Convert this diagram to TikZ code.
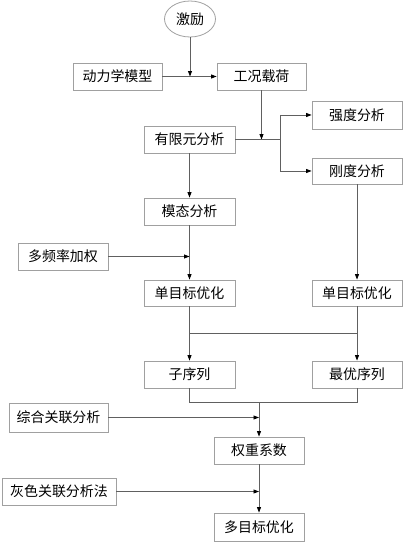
\documentclass[tikz,border=0pt]{standalone}
\usepackage{fontspec}
\setmainfont{Noto Sans CJK SC}
\usetikzlibrary{arrows.meta,shapes.geometric}
\definecolor{linec}{HTML}{606060}
\definecolor{boxc}{HTML}{A0A0A0}
\tikzset{
  box/.style={draw=boxc, line width=0.8pt, inner sep=0pt, font=\fontsize{14}{16}\selectfont, text=black},
  conn/.style={draw=linec, line width=0.9pt},
  arr/.style={conn, -{Stealth[length=5.5pt,width=4pt,inset=0pt]}, arrows={[black]}},
}
\begin{document}
\begin{tikzpicture}[x=1bp,y=-1bp]
\useasboundingbox (0,0) rectangle (406,543);
\node[draw=boxc, line width=0.8pt, ellipse, minimum width=51bp, minimum height=36bp, inner sep=0pt, font=\fontsize{14}{16}\selectfont] (exc) at (190,19) {激励};
\node[box, minimum width=89bp, minimum height=27bp] (dyn) at (117.5,76.5) {动力学模型};
\node[box, minimum width=89bp, minimum height=27bp] (load) at (261.5,76.5) {工况载荷};
\node[box, minimum width=90bp, minimum height=28bp] (str) at (357,115) {强度分析};
\node[box, minimum width=91bp, minimum height=27bp] (fea) at (189.5,139.5) {有限元分析};
\node[box, minimum width=90bp, minimum height=26bp] (stf) at (357,171) {刚度分析};
\node[box, minimum width=91bp, minimum height=27bp] (mod) at (189.5,211.5) {模态分析};
\node[box, minimum width=90bp, minimum height=27bp] (mfw) at (63,256.5) {多频率加权};
\node[box, minimum width=91bp, minimum height=26bp] (soa) at (189.5,293) {单目标优化};
\node[box, minimum width=90bp, minimum height=26bp] (sob) at (357,293) {单目标优化};
\node[box, minimum width=91bp, minimum height=27bp] (sub) at (189.5,374.5) {子序列};
\node[box, minimum width=90bp, minimum height=27bp] (opt) at (357,374.5) {最优序列};
\node[box, minimum width=99bp, minimum height=29bp] (cmp) at (58.5,417.5) {综合关联分析};
\node[box, minimum width=90bp, minimum height=27bp] (wgt) at (259,450.5) {权重系数};
\node[box, minimum width=114bp, minimum height=27bp] (gry) at (59,491.5) {灰色关联分析法};
\node[box, minimum width=90bp, minimum height=28bp] (mo) at (259,527) {多目标优化};
% top
\draw[arr] (exc.south) -- (exc.south |- dyn.east);
\draw[arr] (dyn.east) -- (load.west);
\draw[arr] (load.south) -- (load.south |- fea.east);
\coordinate (j1) at (280,139.5);
\draw[conn] (fea.east) -- (j1);
\draw[arr] (j1 |- str.west) -- (str.west);
\draw[arr] (j1 |- stf.west) -- (stf.west);
\draw[conn] (j1 |- str.west) -- (j1 |- stf.west);
% left column
\draw[arr] (fea.south) -- (mod.north);
\draw[arr] (mod.south) -- (soa.north);
\draw[arr] (mfw.east) -- (mod.south |- mfw.east);
\draw[arr] (stf.south) -- (sob.north);
% split
\coordinate (ya) at (0,333);
\draw[arr] (soa.south) -- (sub.north);
\draw[arr] (sob.south) -- (opt.north);
\draw[conn] (soa.south |- ya) -- (sob.south |- ya);
% merge
\coordinate (yb) at (0,402);
\draw[conn] (sub.south) -- (sub.south |- yb) -- (opt.south |- yb) -- (opt.south);
\draw[arr] (wgt.north |- yb) -- (wgt.north);
\draw[arr] (cmp.east) -- (wgt.north |- cmp.east);
\draw[arr] (wgt.south) -- (mo.north);
\draw[arr] (gry.east) -- (mo.north |- gry.east);
\end{tikzpicture}
\end{document}
